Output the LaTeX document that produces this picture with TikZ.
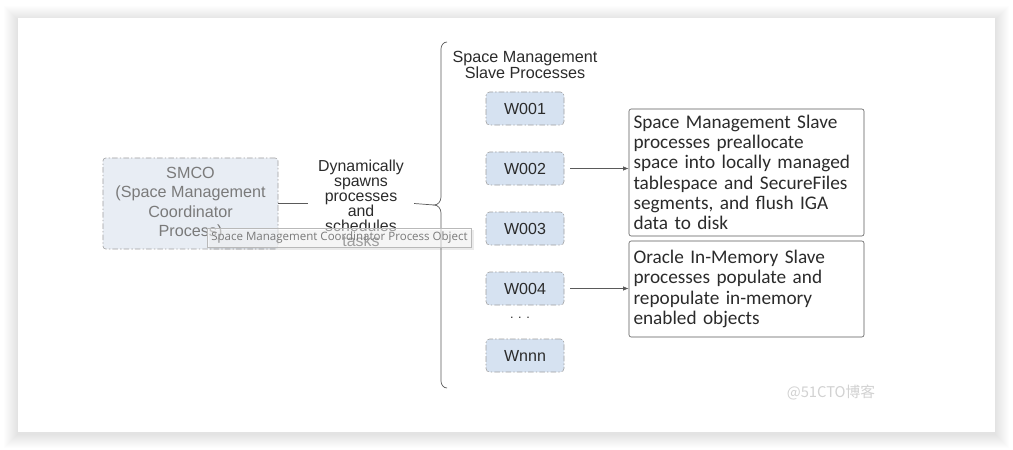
\documentclass[tikz,border=0pt]{standalone}
\usepackage{fontspec}
\setmainfont{Liberation Sans}
\newfontfamily\notefont{Carlito}
\newfontfamily\tipfont{Open Sans}
\newfontfamily\cjk{Noto Sans CJK SC}
\usetikzlibrary{
    positioning,
    arrows.meta,
    calc
}
\definecolor{linegray}{HTML}{5A5A5A}
\definecolor{boxgray}{HTML}{A0A0A0}
\definecolor{smcofill}{HTML}{E8EDF4}
\definecolor{wfill}{HTML}{D6E2F1}
\definecolor{textdark}{HTML}{2B2B2B}
\definecolor{textlight}{HTML}{7A7A7A}

\begin{document}
\begin{tikzpicture}[x=0.25mm, y=-0.25mm,
    dashdot/.style={dash pattern=on 4pt off 1.5pt on 1pt off 1.5pt},
    smcobox/.style={draw=boxgray, fill=smcofill, dashdot, rounded corners=2pt,
        minimum width=43.75mm, minimum height=22.75mm, align=center,
        text=textlight, font=\fontsize{11.5}{13.9}\selectfont},
    wbox/.style={draw=boxgray, fill=wfill, dashdot, rounded corners=2.5pt,
        minimum width=19.5mm, minimum height=8.25mm, text=textdark,
        font=\fontsize{11.4}{13}\selectfont},
    notebox/.style={draw=linegray, fill=white, rounded corners=1.5pt,
        minimum width=58.75mm, text width=56.5mm, inner xsep=1.125mm, align=left,
        text=textdark, font=\notefont\fontsize{13.7}{14.4}\selectfont},
    link/.style={draw=linegray, line width=0.5pt},
    arrow/.style={link, -{Latex[length=1.4mm, width=1.1mm]}, shorten <=1.5mm}
]
    \useasboundingbox (0,0) rectangle (1013,450);

    % Card and its shadow
    \fill[white] (0,0) rectangle (1013,450);
    \foreach \i in {1,...,14}
        \fill[black, opacity=0.008] (18-\i,18-\i+2) rectangle (995+\i,432+\i+2);
    \fill[white] (18,18) rectangle (995,432);

    % Coordinator and its task
    \node[smcobox] (smco) at (190.5,203.5) {SMCO\\(Space Management\\Coordinator\\Process)};
    \node[align=center, text=textdark, inner xsep=2.5mm,
        font=\fontsize{11.3}{10.7}\selectfont] (spawn) at (361,203)
        {Dynamically\\spawns\\processes\\and\\schedules\\tasks};
    \coordinate (tip) at (434,205);
    \draw[link] (smco.east) -- (smco.east -| spawn.west);
    \draw[link] (smco.east -| spawn.east) -- (tip);

    % Brace round the slave processes
    \draw[link] (447,42) to[out=180, in=90] (441,49) -- (441,197)
        to[out=270, in=0] (tip) to[out=0, in=90] (441,213) -- (441,381)
        to[out=270, in=180] (447,388);

    % Slave processes
    \node[align=center, text=textdark, font=\fontsize{11.5}{10}\selectfont] (title)
        at (525,65) {Space Management\\Slave Processes};
    \node[wbox] (w1) at (525,108.5) {W001};
    \node[wbox] (w2) at (525,168.5) {W002};
    \node[wbox] (w3) at (525,228.5) {W003};
    \node[wbox] (w4) at (525,288.5) {W004};
    \node[text=textdark, font=\fontsize{9}{10}\selectfont] (dots) at (520,318) {. . .};
    \node[wbox] (wn) at (525,355.5) {Wnnn};

    % What the slaves do
    \node[notebox, minimum height=31.75mm] (note1) at (746.5,172.5)
        {Space Management Slave\\processes preallocate\\space into locally managed\\tablespace and SecureFiles\\segments, and flush IGA\\data to disk};
    \node[notebox, minimum height=24mm] (note2) at (746.5,289)
        {Oracle In-Memory Slave\\processes populate and\\repopulate in-memory\\enabled objects};
    \draw[arrow] (w2.east) -- (w2.east -| note1.west);
    \draw[arrow] (w4.east) -- (w4.east -| note2.west);

    % Tooltip over the coordinator
    \fill[black, opacity=0.08] (209,230) rectangle (474,250);
    \node[draw=gray!55, fill=white, fill opacity=0.55, text opacity=1, text=textlight,
        minimum width=66mm, minimum height=4.75mm, inner sep=0pt,
        font=\tipfont\fontsize{8.2}{9}\selectfont] (tooltip) at (339.5,237.5)
        {Space Management Coordinator Process Object};

    % Watermark
    \node[text=gray!35, font=\cjk\fontsize{10.5}{12}\selectfont] (mark) at (831,393) {@51CTO博客};
\end{tikzpicture}
\end{document}
